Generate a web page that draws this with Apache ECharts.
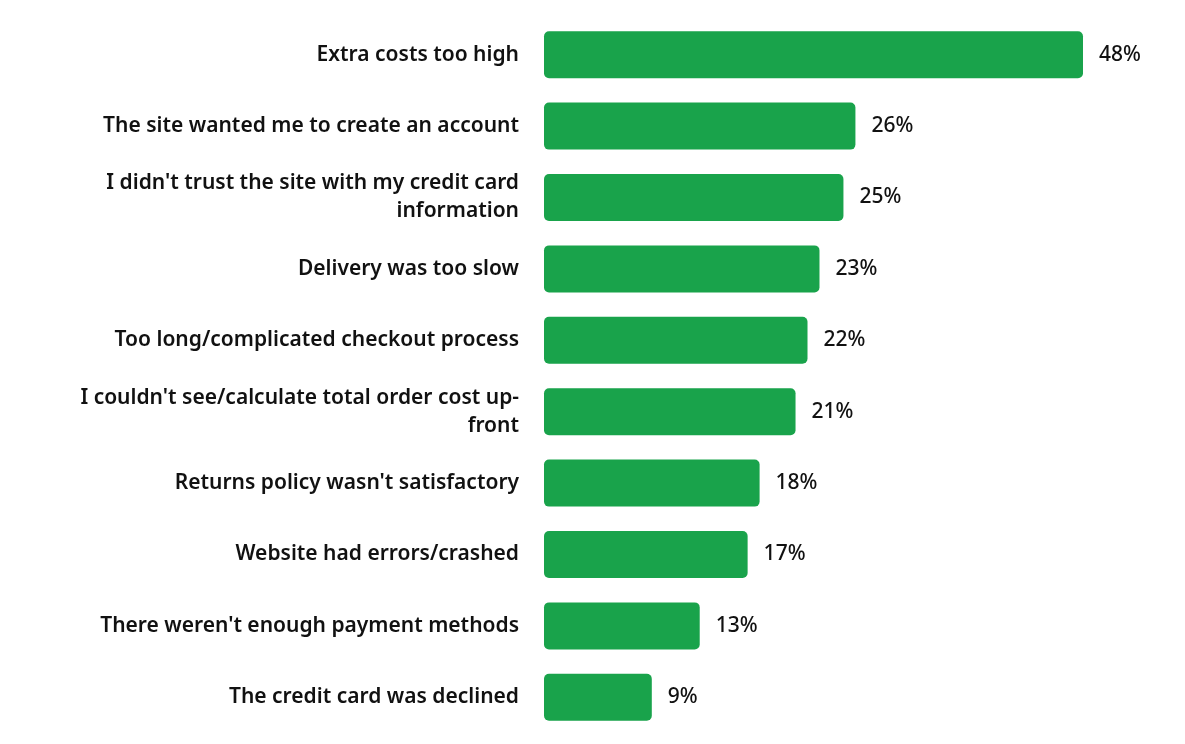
<!DOCTYPE html>
<html>
<head>
<meta charset="utf-8">
<script src="https://cdn.jsdelivr.net/npm/echarts@6/dist/echarts.min.js"></script>
<style>
  html, body { margin: 0; padding: 0; background: #fff; }
  #main { width: 1185px; height: 744px; }
</style>
</head>
<body>
<div id="main"></div>
<script>
// reasons for abandoning checkout, top to bottom
var reasons = [
    "Extra costs too high",
    "The site wanted me to create an account",
    "I didn't trust the site with my credit card\ninformation",
    "Delivery was too slow",
    "Too long/complicated checkout process",
    "I couldn't see/calculate total order cost up-\nfront",
    "Returns policy wasn't satisfactory",
    "Website had errors/crashed",
    "There weren't enough payment methods",
    "The credit card was declined"
];
var shares = [48, 26, 25, 23, 22, 21, 18, 17, 13, 9];

var barColor = "#19a34b";
var fontName = "'Noto Sans', 'Open Sans', sans-serif";

var myChart = echarts.init(document.getElementById('main'), null, { renderer: 'canvas' });

var option = {
    backgroundColor: '#ffffff',
    animation: false,
    grid: {
        left: 544,
        right: 102,
        top: 19,
        bottom: 11,
        containLabel: false
    },
    xAxis: {
        type: 'value',
        min: 0,
        max: 45,   // longest bar is drawn capped in the original
        show: false
    },
    yAxis: {
        type: 'category',
        inverse: true,
        data: reasons,
        axisLine: { show: false },
        axisTick: { show: false },
        splitLine: { show: false },
        axisLabel: {
            margin: 25,
            color: '#111111',
            fontFamily: fontName,
            fontSize: 21,
            fontWeight: 600,
            lineHeight: 28,
            align: 'right'
        }
    },
    series: [{
        type: 'bar',
        data: shares,
        barWidth: 47,
        clip: true,
        itemStyle: {
            color: barColor,
            borderRadius: 5
        },
        label: {
            show: true,
            position: 'right',
            distance: 16,
            color: '#111111',
            fontFamily: fontName,
            fontSize: 21,
            fontWeight: 500,
            formatter: '{c}%'
        }
    }]
};

myChart.setOption(option);
</script>
</body>
</html>
